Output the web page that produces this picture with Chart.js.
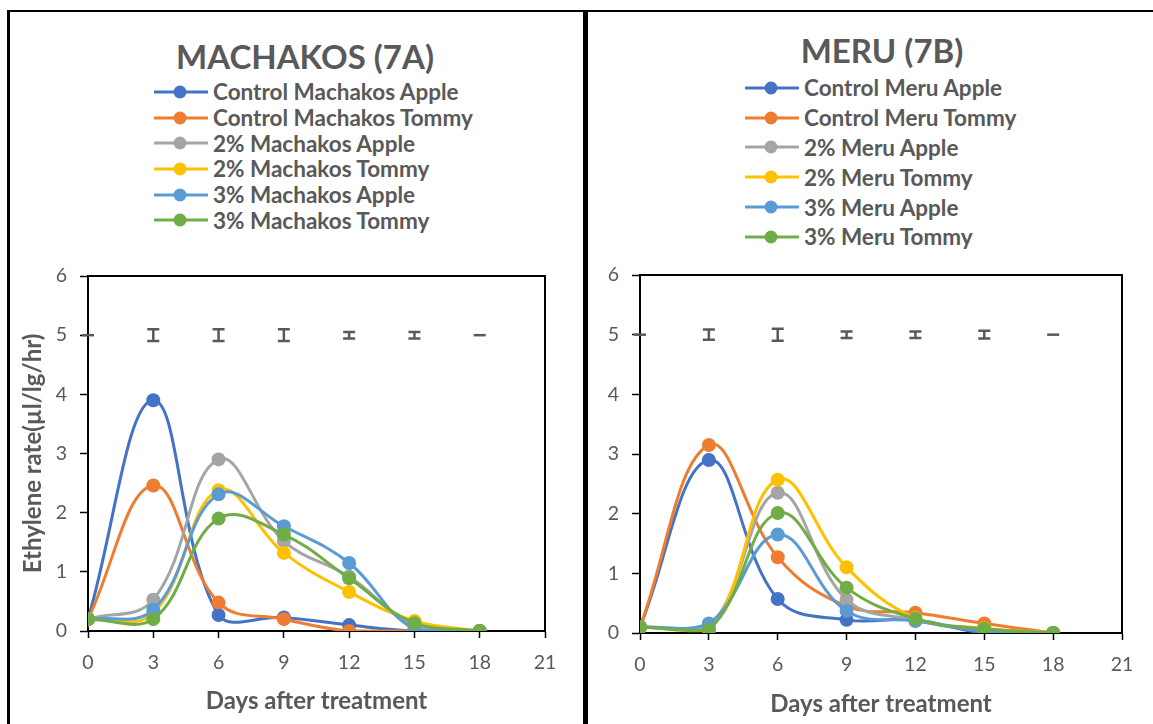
<!DOCTYPE html>
<html>
<head>
<meta charset="utf-8">
<script src="https://cdn.jsdelivr.net/npm/chart.js@4.4.1/dist/chart.umd.min.js"></script>
<style>
  body { margin: 0; background: #fff; width: 1153px; height: 724px; overflow: hidden; position: relative;
         font-family: Lato, "Open Sans", sans-serif; color: #595959; }
  .rule { position: absolute; background: #000; }
  .panel { position: absolute; top: 12px; height: 712px; }
  .panel canvas { position: absolute; left: 0; top: 0; }
  .title { position: absolute; font-weight: bold; white-space: nowrap; transform: translate(-50%, -50%); }
  .legend { position: absolute; margin: 0; padding: 0; list-style: none; }
  .legend li { display: flex; align-items: center; font-weight: bold; white-space: nowrap; }
  .legend svg { flex: none; }
</style>
</head>
<body>
<div class="rule" style="left:7px;top:10px;width:1146px;height:2px"></div>
<div class="rule" style="left:7px;top:10px;width:3px;height:714px"></div>
<div class="rule" style="left:583px;top:10px;width:5px;height:714px"></div>

<div class="panel" id="panelA" style="left:10px;width:573px">
  <div class="title" style="left:295px;top:44px;font-size:33px">MACHAKOS (7A)</div>
  <ul class="legend" id="legendA" style="left:143px;top:67px"></ul>
  <canvas id="chartA" width="573" height="712"></canvas>
</div>
<div class="panel" id="panelB" style="left:589px;width:564px">
  <div class="title" style="left:293px;top:38px;font-size:33px">MERU (7B)</div>
  <ul class="legend" id="legendB" style="left:155px;top:61px"></ul>
  <canvas id="chartB" width="564" height="712"></canvas>
</div>

<script>
// days after treatment
const days = [0, 3, 6, 9, 12, 15, 18];
const xTicks = [0, 3, 6, 9, 12, 15, 18, 21];
const yTicks = [0, 1, 2, 3, 4, 5, 6];

const seriesColors = ['#4472C4', '#ED7D31', '#A5A5A5', '#FFC000', '#5B9BD5', '#70AD47'];

// Machakos (7A)
const machakosLabels = ['Control Machakos Apple', 'Control Machakos Tommy', '2% Machakos Apple',
                        '2% Machakos Tommy', '3% Machakos Apple', '3% Machakos Tommy'];
const machakosControlApple = [0.2, 3.9, 0.27, 0.23, 0.1, 0, 0];
const machakosControlTommy = [0.2, 2.46, 0.48, 0.2, 0, 0, 0];
const machakos2Apple       = [0.2, 0.53, 2.9, 1.52, 0.92, 0.1, 0];
const machakos2Tommy       = [0.2, 0.3, 2.38, 1.32, 0.66, 0.17, 0];
const machakos3Apple       = [0.2, 0.36, 2.31, 1.77, 1.15, 0.03, 0];
const machakos3Tommy       = [0.2, 0.2, 1.9, 1.63, 0.89, 0.13, 0];
const machakosErr          = [0, 0.1, 0.1, 0.1, 0.055, 0.055, 0];

// Meru (7B)
const meruLabels = ['Control Meru Apple', 'Control Meru Tommy', '2% Meru Apple',
                    '2% Meru Tommy', '3% Meru Apple', '3% Meru Tommy'];
const meruControlApple = [0.1, 2.9, 0.57, 0.22, 0.22, 0, 0];
const meruControlTommy = [0.1, 3.15, 1.27, 0.45, 0.34, 0.16, 0];
const meru2Apple       = [0.1, 0.1, 2.35, 0.56, 0.22, 0.05, 0];
const meru2Tommy       = [0.1, 0.05, 2.57, 1.1, 0.25, 0.08, 0];
const meru3Apple       = [0.1, 0.16, 1.65, 0.37, 0.2, 0.03, 0];
const meru3Tommy       = [0.1, 0.06, 2.01, 0.76, 0.24, 0.07, 0];
const meruErr          = [0, 0.085, 0.1, 0.055, 0.055, 0.065, 0];

// error bars (LSD) are plotted along y = 5
const errLevel = 5;

const GREY = '#595959';

/** Black box round the plot area plus the error bars at y = 5. */
const panelExtras = {
  id: 'panelExtras',
  afterDatasetsDraw(chart, args, opts) {
    const { ctx, chartArea: a, scales: { x, y } } = chart;
    ctx.save();
    ctx.strokeStyle = GREY;
    ctx.lineWidth = 2.5;
    opts.err.forEach((h, i) => {
      const px = x.getPixelForValue(days[i]);
      const top = y.getPixelForValue(errLevel + h);
      const bot = y.getPixelForValue(errLevel - h);
      ctx.beginPath();
      if (h > 0) {
        ctx.moveTo(px, top); ctx.lineTo(px, bot);
        ctx.moveTo(px - 6, top); ctx.lineTo(px + 6, top);
        ctx.moveTo(px - 6, bot); ctx.lineTo(px + 6, bot);
      } else {
        ctx.moveTo(px - 6, top); ctx.lineTo(px + 6, top);
      }
      ctx.stroke();
    });
    ctx.strokeStyle = '#000';
    ctx.lineWidth = 2;
    ctx.beginPath();
    ctx.moveTo(a.left, a.top); ctx.lineTo(a.right, a.top); ctx.lineTo(a.right, a.bottom);
    ctx.stroke();
    ctx.restore();
  }
};

function makeDatasets(labels, values) {
  return labels.map((label, i) => ({
    label,
    data: days.map((d, j) => ({ x: d, y: values[i][j] })),
    borderColor: seriesColors[i],
    backgroundColor: seriesColors[i],
    borderWidth: 3,
    pointRadius: 7,
    pointHoverRadius: 7,
    pointBorderWidth: 0,
    tension: 0.4,
    order: labels.length - i,   // later series on top, like the spreadsheet
  }));
}

function makeChart(id, labels, values, err, o) {
  const ctx = document.getElementById(id).getContext('2d');
  return new Chart(ctx, {
    type: 'line',
    data: { datasets: makeDatasets(labels, values) },
    plugins: [panelExtras],
    options: {
      responsive: false,
      animation: false,
      layout: { padding: o.padding },
      plugins: {
        legend: { display: false },
        tooltip: { enabled: false },
        panelExtras: { err },
      },
      scales: {
        x: {
          type: 'linear', min: 0, max: 21,
          afterBuildTicks: s => { s.ticks = xTicks.map(v => ({ value: v })); },
          afterFit: s => { s.height = o.xHeight; },
          border: { display: true, color: '#000', width: 2 },
          grid: { drawOnChartArea: false, drawTicks: true, tickLength: 7, tickColor: '#000', tickWidth: 1.5 },
          ticks: { color: GREY, padding: 13, font: { family: 'Lato', size: 19.5 } },
          title: { display: true, text: 'Days after treatment', color: GREY,
                   font: { family: 'Lato', size: 24, weight: 'bold' }, padding: { top: 0, bottom: o.xTitlePad } },
        },
        y: {
          min: 0, max: 6,
          afterBuildTicks: s => { s.ticks = yTicks.map(v => ({ value: v })); },
          afterFit: s => { s.width = o.yWidth; },
          border: { display: true, color: '#000', width: 2 },
          grid: { drawOnChartArea: false, drawTicks: true, tickLength: 8, tickColor: '#000', tickWidth: 1.5 },
          ticks: { color: GREY, padding: 13, font: { family: 'Lato', size: 19.5 } },
          title: { display: !!o.yTitle, text: o.yTitle || '', color: GREY,
                   font: { family: 'Lato', size: 24, weight: 'bold' }, padding: 0 },
        },
      },
    },
  });
}

/** Build the one-per-row legend from the chart's datasets. */
function buildLegend(chart, listId, rowH, fontSize) {
  const ul = document.getElementById(listId);
  chart.data.datasets.forEach(ds => {
    const li = document.createElement('li');
    li.style.height = rowH + 'px';
    li.style.fontSize = fontSize + 'px';
    li.innerHTML =
      `<svg width="60" height="16"><line x1="1" y1="8" x2="55" y2="8" stroke="${ds.borderColor}" stroke-width="3"/>` +
      `<circle cx="27" cy="8" r="6.5" fill="${ds.borderColor}"/></svg>`;
    const span = document.createElement('span');
    span.textContent = ds.label;
    li.appendChild(span);
    ul.appendChild(li);
  });
}

const chartA = makeChart('chartA', machakosLabels,
  [machakosControlApple, machakosControlTommy, machakos2Apple, machakos2Tommy, machakos3Apple, machakos3Tommy],
  machakosErr,
  { padding: { left: 9, right: 38, top: 264, bottom: 0 }, yWidth: 69, xHeight: 93, xTitlePad: 8,
    yTitle: 'Ethylene rate(µl/lg/hr)' });

const chartB = makeChart('chartB', meruLabels,
  [meruControlApple, meruControlTommy, meru2Apple, meru2Tommy, meru3Apple, meru3Tommy],
  meruErr,
  { padding: { left: 9, right: 31, top: 263, bottom: 0 }, yWidth: 42, xHeight: 91, xTitlePad: 5 });

buildLegend(chartA, 'legendA', 25.7, 22.5);
buildLegend(chartB, 'legendB', 29.8, 22.5);
</script>
</body>
</html>
